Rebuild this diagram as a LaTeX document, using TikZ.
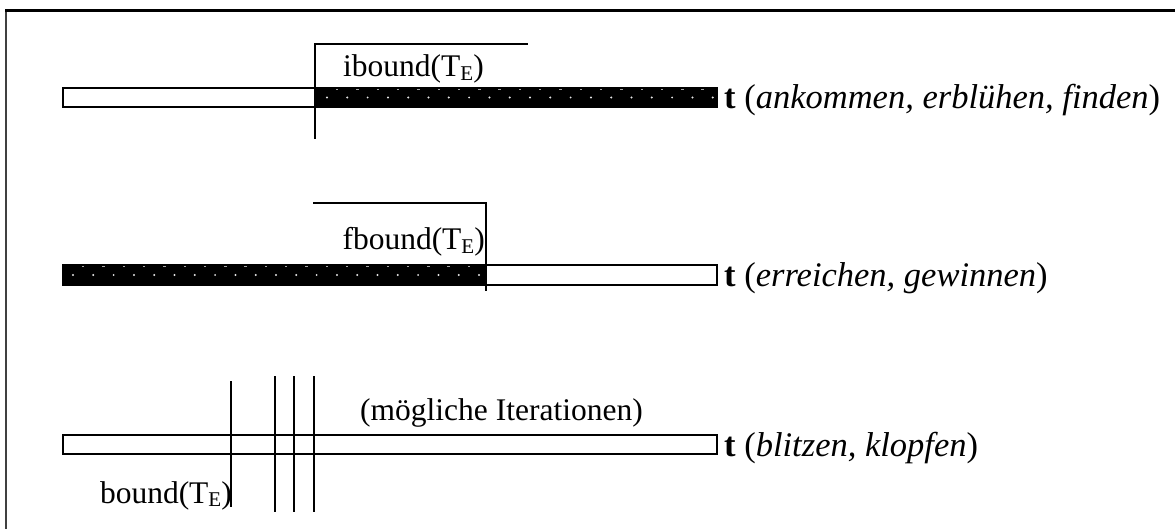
\documentclass[tikz,border=0pt]{standalone}
\usepackage{fontspec}
\setmainfont{Liberation Serif}
\newcommand{\subE}{\raisebox{-3.5pt}{\fontsize{21}{24}\selectfont E}}
\begin{document}
\begin{tikzpicture}[x=1pt,y=-1pt,
  timebar/.style={draw=black, line width=1.8pt},
  boundline/.style={draw=black, line width=1.8pt},
  lbl/.style={inner sep=0pt, font=\fontsize{31.5}{36}\selectfont},
  axislbl/.style={inner sep=0pt, font=\fontsize{34.5}{39}\selectfont},
  dotmark/.style={fill=white!80!gray},
  dashmark/.style={fill=gray!70}]
\useasboundingbox (0,0) rectangle (1175,529);

% frame
\draw[line width=2pt, gray!50!black] (6,529) -- (6,10.3);
\draw[line width=2.6pt] (5,10.3) -- (1175,10.3);

% --- row 1: initial bound ---
\fill[black] (315,88) rectangle (717,107);
\foreach \i in {0,...,19} \fill[dotmark] ({327+20.3*\i},97.5) circle (1.1);
\foreach \i in {0,...,18} \fill[dashmark] ({336+20.3*\i},89.2) rectangle +(2.4,1);
\draw[timebar] (63,88) rectangle (717,107);
\coordinate (ia) at (315,139);
\coordinate (ib) at (315,44);
\coordinate (ic) at (528,44);
\draw[boundline] (ia) -- (ib) -- (ic);
\node[lbl, anchor=base west] (iblbl) at (343,77) {ibound(T\subE)};
\node[axislbl, anchor=base west] (t1) at (724,109)
  {\textbf{t} (\textit{ankommen, erblühen, finden})};

% --- row 2: final bound ---
\fill[black] (63,265) rectangle (486,285);
\foreach \i in {0,...,20} \fill[dotmark] ({73+20.3*\i},275) circle (1.1);
\foreach \i in {0,...,19} \fill[dashmark] ({82+20.3*\i},266.2) rectangle +(2.4,1);
\draw[timebar] (63,265) rectangle (717,285);
\coordinate (fa) at (313,203);
\coordinate (fb) at (486,203);
\coordinate (fc) at (486,291);
\draw[boundline] (fa) -- (fb) -- (fc);
\node[lbl, anchor=base east] (fblbl) at (485,250) {fbound(T\subE)};
\node[axislbl, anchor=base west] (t2) at (724,287)
  {\textbf{t} (\textit{erreichen, gewinnen})};

% --- row 3: bound with iterations ---
\draw[timebar] (63,435) rectangle (717,454);
\coordinate (b0a) at (231,381);  \coordinate (b0b) at (231,507);
\coordinate (b1a) at (275,376);  \coordinate (b1b) at (275,512);
\coordinate (b2a) at (294,376);  \coordinate (b2b) at (294,512);
\coordinate (b3a) at (314,376);  \coordinate (b3b) at (314,512);
\draw[boundline] (b0a) -- (b0b);
\draw[boundline] (b1a) -- (b1b);
\draw[boundline] (b2a) -- (b2b);
\draw[boundline] (b3a) -- (b3b);
\node[lbl, anchor=base east] (blbl) at (232,503) {bound(T\subE)};
\node[lbl, anchor=base west] (iter) at (360,420) {(mögliche Iterationen)};
\node[axislbl, anchor=base west] (t3) at (724,456)
  {\textbf{t} (\textit{blitzen, klopfen})};
\end{tikzpicture}
\end{document}
